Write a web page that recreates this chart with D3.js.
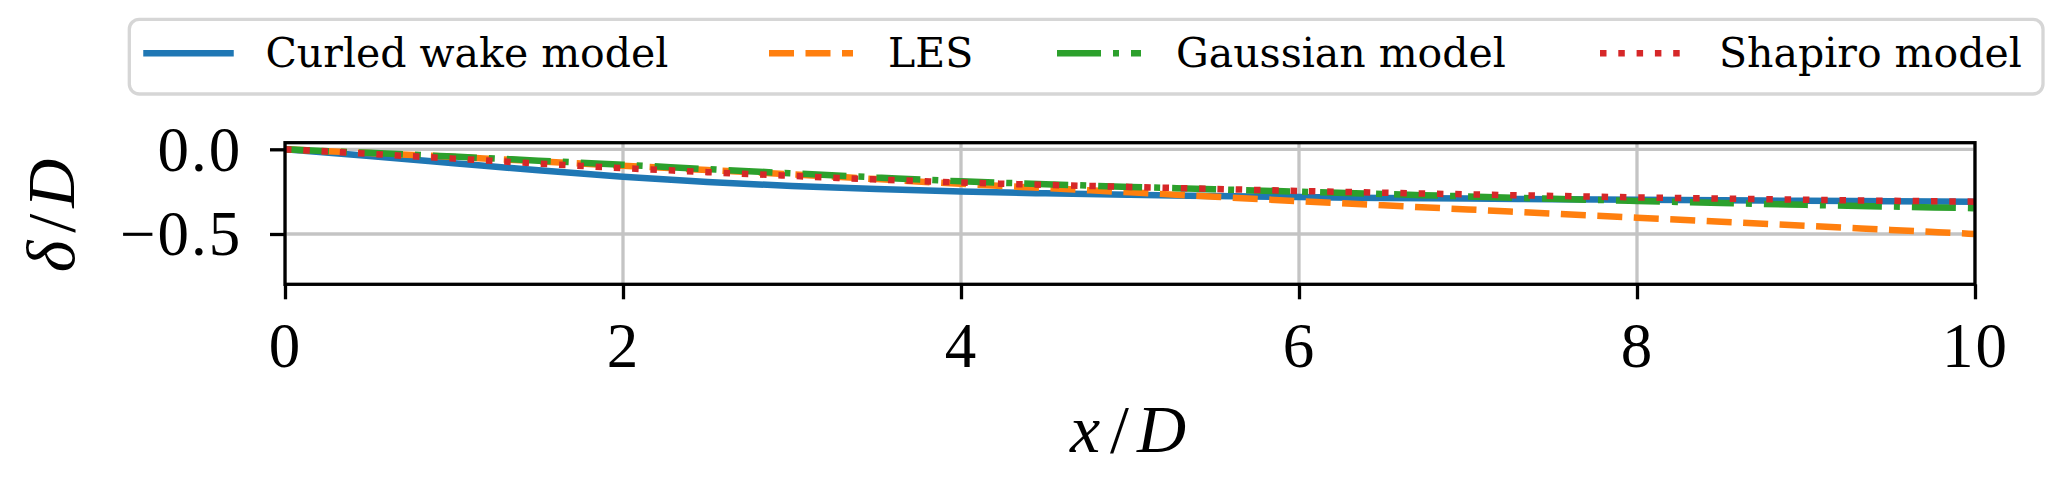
<!DOCTYPE html>
<html>
<head>
<meta charset="utf-8">
<script src="https://cdn.jsdelivr.net/npm/d3@7"></script>
<style>
  html, body { margin: 0; padding: 0; background: #fff; }
  svg { display: block; }
</style>
</head>
<body>
<script>
// ---------------- data ----------------
const xValues   = [0, 0.5, 1, 1.5, 2, 2.5, 3, 3.5, 4, 4.5, 5, 5.5, 6, 6.5, 7, 7.5, 8, 8.5, 9, 9.5, 10];
const curledWake = [0, -0.040, -0.082, -0.124, -0.162, -0.193, -0.217, -0.235, -0.249, -0.260, -0.269, -0.276, -0.282, -0.287, -0.291, -0.295, -0.298, -0.301, -0.304, -0.307, -0.309];
const les        = [0, -0.022, -0.045, -0.071, -0.097, -0.122, -0.148, -0.176, -0.204, -0.229, -0.254, -0.280, -0.306, -0.331, -0.355, -0.380, -0.404, -0.428, -0.452, -0.476, -0.500];
const gaussian   = [0, -0.021, -0.043, -0.067, -0.091, -0.117, -0.142, -0.166, -0.189, -0.206, -0.222, -0.236, -0.250, -0.264, -0.278, -0.292, -0.305, -0.317, -0.328, -0.338, -0.348];
const shapiro    = [0, -0.027, -0.055, -0.084, -0.111, -0.135, -0.157, -0.178, -0.196, -0.210, -0.222, -0.234, -0.246, -0.256, -0.266, -0.275, -0.284, -0.291, -0.298, -0.304, -0.309];
const seriesNames = ["Curled wake model", "LES", "Gaussian model", "Shapiro model"];
const xTickValues = [0, 2, 4, 6, 8, 10];
const yTickValues = [0, -0.5];
const xDomain = [0, 10];
const yDomain = [-0.797, 0.039];

// ---------------- layout / style ----------------
const W = 2067, H = 490;
const plot = { left: 285, right: 1975, top: 142.7, bottom: 284.3 };
const colors = ["#1f77b4", "#ff7f0e", "#2ca02c", "#d62728"];
const dashes = [null, "25 11.5", "44 12 6 12", "6.5 11.8"];
const lineW = 6.5;
const spineW = 3.3;
const tickFont = "'Liberation Serif', 'Times New Roman', serif";
const legendFont = "'DejaVu Serif', serif";

const svg = d3.select("body").append("svg").attr("width", W).attr("height", H);

const x = d3.scaleLinear().domain(xDomain).range([plot.left, plot.right]);
const y = d3.scaleLinear().domain(yDomain).range([plot.bottom, plot.top]);

// clip
svg.append("defs").append("clipPath").attr("id", "clip")
  .append("rect")
  .attr("x", plot.left).attr("y", plot.top)
  .attr("width", plot.right - plot.left).attr("height", plot.bottom - plot.top);

// grid
const grid = svg.append("g").attr("clip-path", "url(#clip)");
grid.selectAll(".gx").data(xTickValues).enter().append("line")
  .attr("x1", d => x(d)).attr("x2", d => x(d))
  .attr("y1", plot.top).attr("y2", plot.bottom)
  .attr("stroke", "#c4c4c4").attr("stroke-width", 3.3);
grid.selectAll(".gy").data(yTickValues).enter().append("line")
  .attr("x1", plot.left).attr("x2", plot.right)
  .attr("y1", d => y(d)).attr("y2", d => y(d))
  .attr("stroke", "#c4c4c4").attr("stroke-width", 3.3);

// lines
const allSeries = [curledWake, les, gaussian, shapiro];
const lineGen = d3.line()
  .x(d => x(d[0])).y(d => y(d[1]))
  .curve(d3.curveMonotoneX);
const linesG = svg.append("g").attr("clip-path", "url(#clip)");
allSeries.forEach((vals, i) => {
  const pts = xValues.map((xv, j) => [xv, vals[j]]);
  const p = linesG.append("path")
    .datum(pts)
    .attr("d", lineGen)
    .attr("fill", "none")
    .attr("stroke", colors[i])
    .attr("stroke-width", lineW)
    .attr("stroke-linejoin", "round")
    .attr("stroke-linecap", "butt");
  if (dashes[i]) p.attr("stroke-dasharray", dashes[i]);
});

// axes
const xAxis = d3.axisBottom(x).tickValues(xTickValues).tickSize(15).tickSizeOuter(0)
  .tickFormat(d3.format("d"));
const gx = svg.append("g").attr("transform", `translate(0,${plot.bottom})`).call(xAxis);
gx.select(".domain").remove();
gx.selectAll(".tick line").attr("stroke", "#000").attr("stroke-width", spineW);
gx.selectAll(".tick text")
  .attr("y", 83).attr("dy", 0)
  .attr("fill", "#000")
  .style("font-family", tickFont).style("font-size", "63px").style("letter-spacing", "2px");

const yAxis = d3.axisLeft(y).tickValues(yTickValues).tickSize(15).tickSizeOuter(0)
  .tickFormat(d => d === 0 ? "0.0" : "\u2212" + Math.abs(d).toFixed(1));
const gy = svg.append("g").attr("transform", `translate(${plot.left},0)`).call(yAxis);
gy.select(".domain").remove();
gy.selectAll(".tick line").attr("stroke", "#000").attr("stroke-width", spineW);
gy.selectAll(".tick text")
  .attr("x", -42.7).attr("dy", 0).attr("y", 21)
  .attr("text-anchor", "end")
  .attr("fill", "#000")
  .style("font-family", tickFont).style("font-size", "63px").style("letter-spacing", "2px");

// spines
svg.append("rect")
  .attr("x", plot.left).attr("y", plot.top)
  .attr("width", plot.right - plot.left).attr("height", plot.bottom - plot.top)
  .attr("fill", "none").attr("stroke", "#000").attr("stroke-width", spineW);

// x label  x/D
const xl = svg.append("text")
  .attr("x", (plot.left + plot.right) / 2 - 2).attr("y", 452)
  .attr("text-anchor", "middle")
  .style("font-family", tickFont).style("font-size", "68px");
xl.append("tspan").style("font-style", "italic").text("x");
xl.append("tspan").attr("dx", 10).text("/");
xl.append("tspan").attr("dx", 8).style("font-style", "italic").text("D");

// y label  δ/D
const yl = svg.append("text")
  .attr("transform", `translate(74,${(plot.top + plot.bottom) / 2 + 2}) rotate(-90)`)
  .attr("text-anchor", "middle")
  .style("font-family", tickFont).style("font-size", "68px");
yl.append("tspan").style("font-style", "italic").text("\u03B4");
yl.append("tspan").attr("dx", 8).text("/");
yl.append("tspan").attr("dx", 6).style("font-style", "italic").text("D");

// legend
const legend = svg.append("g");
legend.append("rect")
  .attr("x", 129.3).attr("y", 19.3)
  .attr("width", 2043 - 129.3).attr("height", 94 - 19.3)
  .attr("rx", 10).attr("ry", 10)
  .attr("fill", "#fff").attr("fill-opacity", 0.8)
  .attr("stroke", "#d6d6d6").attr("stroke-width", 3.3);
const handleX = [146.5, 769, 1057, 1600];
const handleLen = 84;
const legendY = 53.3;
seriesNames.forEach((name, i) => {
  const l = legend.append("line")
    .attr("x1", handleX[i]).attr("x2", handleX[i] + handleLen)
    .attr("y1", legendY).attr("y2", legendY)
    .attr("stroke", colors[i]).attr("stroke-width", lineW)
    .attr("stroke-linecap", dashes[i] ? "butt" : "square");
  if (dashes[i]) l.attr("stroke-dasharray", dashes[i]);
  legend.append("text")
    .attr("x", handleX[i] + 119).attr("y", 66.7)
    .attr("fill", "#000")
    .style("font-family", legendFont).style("font-size", "41px")
    .text(name);
});
</script>
</body>
</html>
